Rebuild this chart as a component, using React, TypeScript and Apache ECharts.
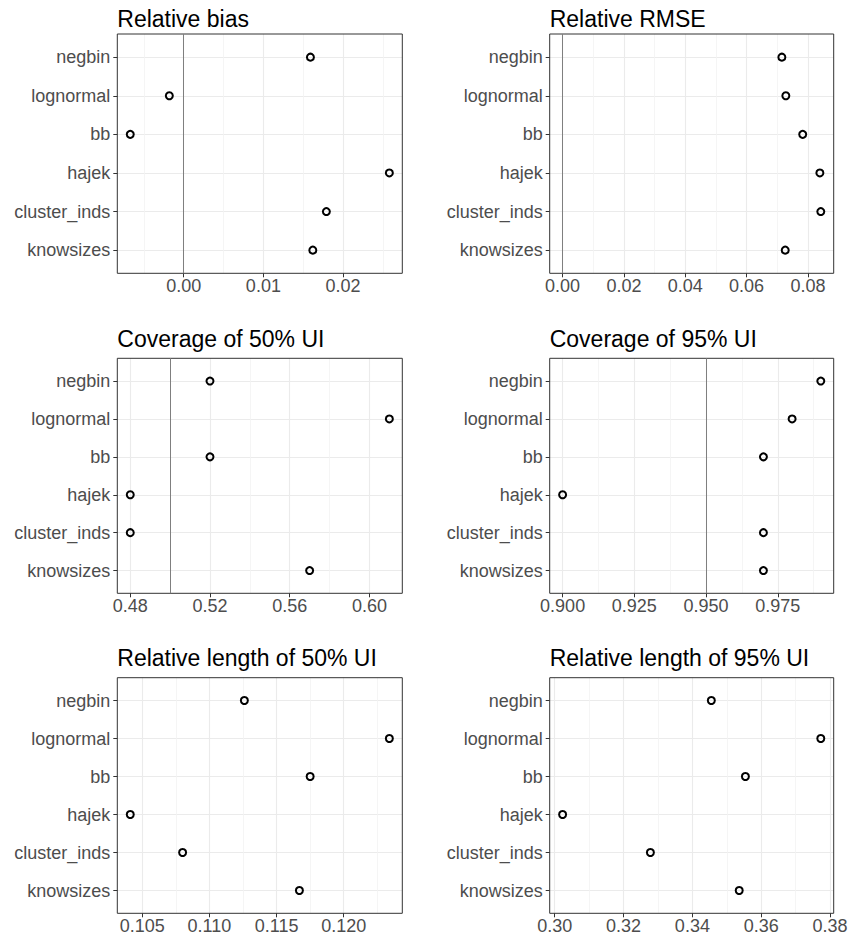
import React, { useEffect, useRef } from 'react';
import * as echarts from 'echarts';

const categories = ['negbin', 'lognormal', 'bb', 'hajek', 'cluster_inds', 'knowsizes'];

const relBias = [0.0159, -0.0018, -0.0067, 0.0258, 0.0179, 0.0162];
const relRMSE = [0.0715, 0.0728, 0.0783, 0.0839, 0.0842, 0.0726];
const cov50 = [0.52, 0.61, 0.52, 0.48, 0.48, 0.57];
const cov95 = [0.99, 0.98, 0.97, 0.9, 0.97, 0.97];
const len50 = [0.1126, 0.1234, 0.1175, 0.1041, 0.108, 0.1167];
const len95 = [0.3455, 0.3773, 0.3554, 0.3023, 0.3278, 0.3536];

const panelTitles = [
  'Relative bias',
  'Relative RMSE',
  'Coverage of 50% UI',
  'Coverage of 95% UI',
  'Relative length of 50% UI',
  'Relative length of 95% UI',
];
const panelValues = [relBias, relRMSE, cov50, cov95, len50, len95];
const referenceLines: (number | null)[] = [0, 0, 0.5, 0.95, null, null];

const majorTicks = [
  [0, 0.01, 0.02],
  [0, 0.02, 0.04, 0.06, 0.08],
  [0.48, 0.52, 0.56, 0.6],
  [0.9, 0.925, 0.95, 0.975],
  [0.105, 0.11, 0.115, 0.12],
  [0.3, 0.32, 0.34, 0.36, 0.38],
];
const minorTicks = [
  [-0.005, 0.005, 0.015, 0.025],
  [0.01, 0.03, 0.05, 0.07],
  [0.5, 0.54, 0.58],
  [0.9125, 0.9375, 0.9625, 0.9875],
  [0.1075, 0.1125, 0.1175, 0.1225],
  [0.31, 0.33, 0.35, 0.37],
];
const tickDecimals = [2, 2, 2, 3, 3, 2];

const categoryPositions = [1, 2, 3, 4, 5, 6];
const yRange = [0.4, 6.6];

// layout
const colLeft = [117.3, 549.7];
const colWidth = [285, 284];
const rowTop = [34, 358.3, 677.7];
const rowHeight = [239.3, 235, 235.6];
const titleTop = [7.5, 327.5, 646.8];

const FONT = '"Liberation Sans", Arial, Helvetica, sans-serif';

export default function App() {
  const ref = useRef<HTMLDivElement>(null);

  useEffect(() => {
    if (!ref.current) return;
    const chart = echarts.init(ref.current, undefined, { renderer: 'svg' });

    const grids: any[] = [];
    const xAxes: any[] = [];
    const yAxes: any[] = [];
    const series: any[] = [];
    const titles: any[] = [];

    panelValues.forEach((vals, i) => {
      const col = i % 2;
      const row = Math.floor(i / 2);
      const ref0 = referenceLines[i];
      const all = ref0 === null ? vals.slice() : vals.concat([ref0]);
      const lo = Math.min(...all);
      const hi = Math.max(...all);
      const pad = (hi - lo) * 0.05;
      const xmin = lo - pad;
      const xmax = hi + pad;

      grids.push({
        left: colLeft[col],
        top: rowTop[row],
        width: colWidth[col],
        height: rowHeight[row],
        show: true,
        borderColor: '#333333',
        borderWidth: 1,
        backgroundColor: 'transparent',
        z: 3,
      });

      titles.push({
        text: panelTitles[i],
        left: colLeft[col],
        top: titleTop[row],
        padding: 0,
        textStyle: {
          fontFamily: FONT,
          fontSize: 23,
          fontWeight: 'normal',
          color: '#000000',
        },
      });

      // main x axis
      xAxes.push({
        type: 'value',
        gridIndex: i,
        position: 'bottom',
        min: xmin,
        max: xmax,
        axisLine: { show: false, onZero: false },
        axisTick: {
          show: true,
          length: 4,
          customValues: majorTicks[i],
          lineStyle: { color: '#333333', width: 1 },
        },
        axisLabel: {
          show: true,
          customValues: majorTicks[i],
          formatter: (v: number) => v.toFixed(tickDecimals[i]),
          color: '#4D4D4D',
          fontFamily: FONT,
          fontSize: 18,
          margin: 4,
        },
        splitLine: { show: true, lineStyle: { color: '#EBEBEB', width: 1.1 } },
        z: 2,
      });
      // minor grid axis
      xAxes.push({
        type: 'value',
        gridIndex: i,
        position: 'top',
        min: xmin,
        max: xmax,
        axisLine: { show: false, onZero: false },
        axisTick: { show: false, customValues: minorTicks[i] },
        axisLabel: { show: false },
        splitLine: { show: true, lineStyle: { color: '#F3F3F3', width: 0.8 } },
        z: 1,
      });

      yAxes.push({
        type: 'value',
        gridIndex: i,
        position: 'left',
        inverse: true,
        min: yRange[0],
        max: yRange[1],
        axisLine: { show: false, onZero: false },
        axisTick: {
          show: true,
          length: 4,
          customValues: categoryPositions,
          lineStyle: { color: '#333333', width: 1 },
        },
        axisLabel: {
          show: true,
          customValues: categoryPositions,
          formatter: (v: number) => categories[Math.round(v) - 1] ?? '',
          color: '#4D4D4D',
          fontFamily: FONT,
          fontSize: 18,
          margin: 7,
        },
        splitLine: { show: true, lineStyle: { color: '#EBEBEB', width: 1.1 } },
      });

      const s: any = {
        type: 'scatter',
        xAxisIndex: i * 2,
        yAxisIndex: i,
        data: vals.map((v, k) => [v, categoryPositions[k]]),
        symbol: 'circle',
        symbolSize: 7,
        itemStyle: {
          color: 'rgba(0,0,0,0)',
          borderColor: '#000000',
          borderWidth: 2,
          opacity: 1,
        },
        z: 5,
        silent: true,
      };
      if (ref0 !== null) {
        s.markLine = {
          silent: true,
          symbol: ['none', 'none'],
          label: { show: false },
          lineStyle: { color: '#7F7F7F', width: 1, type: 'solid' },
          data: [
            [
              { coord: [ref0, yRange[0]] },
              { coord: [ref0, yRange[1]] },
            ],
          ],
          z: 4,
        };
      }
      series.push(s);
    });

    chart.setOption({
      animation: false,
      backgroundColor: '#ffffff',
      title: titles,
      grid: grids,
      xAxis: xAxes,
      yAxis: yAxes,
      series,
    });

    return () => {
      chart.dispose();
    };
  }, []);

  return (
    <div
      ref={ref}
      style={{ position: 'absolute', left: 0, top: 0, width: 853, height: 939 }}
    />
  );
}
